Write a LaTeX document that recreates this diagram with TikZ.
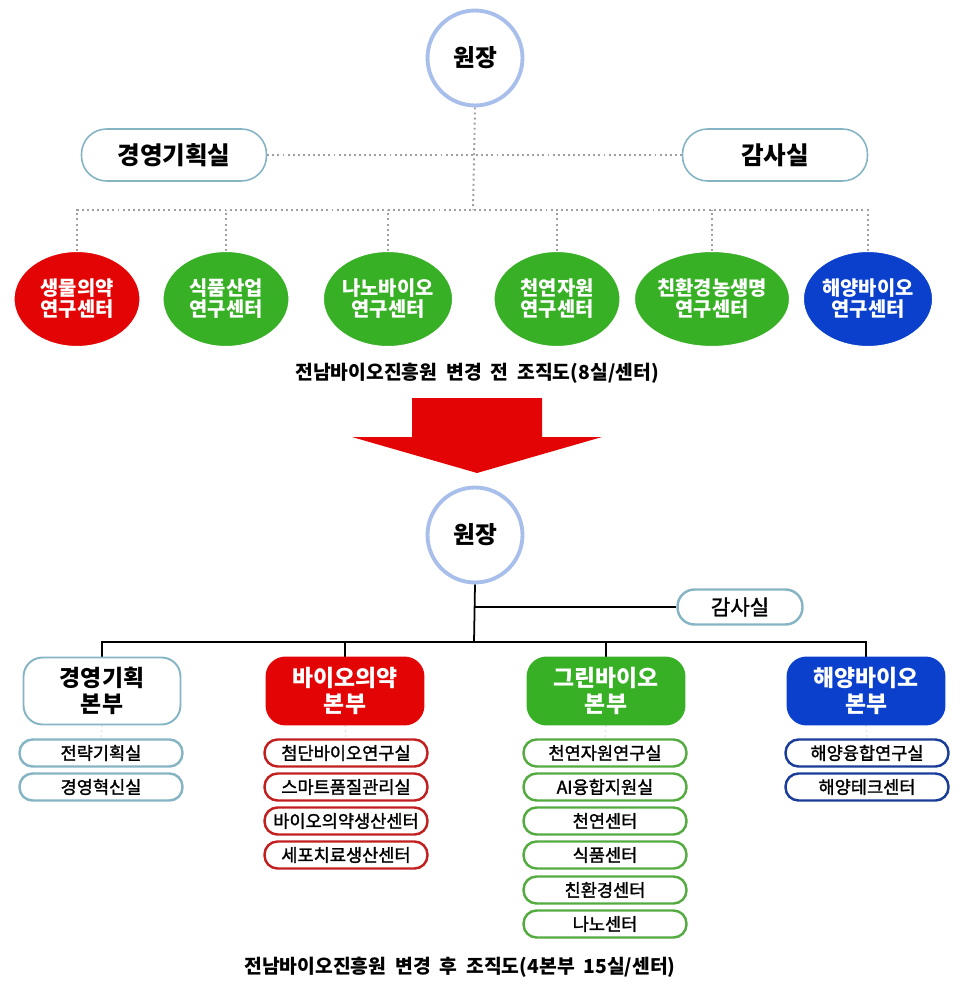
\documentclass[tikz,border=0pt]{standalone}
\usepackage{fontspec}
\usepackage{tikz}
\usetikzlibrary{shapes}
\usetikzlibrary{shapes.geometric}
\newfontfamily\kr{Noto Sans CJK KR}
\newfontfamily\krmed[FakeBold=1.6]{Noto Sans CJK KR}
\pgfdeclarelayer{edgelayer}
\pgfdeclarelayer{nodelayer}
\pgfsetlayers{edgelayer,nodelayer,main}
\tikzstyle{none}=[inner sep=0pt]
\definecolor{chief}{rgb}{0.66,0.75,0.92}
\definecolor{teal}{rgb}{0.52,0.71,0.77}
\definecolor{red}{rgb}{0.89,0.02,0.02}
\definecolor{green}{rgb}{0.22,0.69,0.15}
\definecolor{blue}{rgb}{0.04,0.25,0.80}
\definecolor{darkred}{rgb}{0.76,0.12,0.12}
\definecolor{darkgreen}{rgb}{0.33,0.67,0.25}
\definecolor{darkblue}{rgb}{0.10,0.24,0.60}
\tikzstyle{chief}=[style=none, circle, draw=chief, line width=2.2pt, fill=white, minimum size=1.9cm, font=\kr\bfseries\fontsize{13.5}{15}\selectfont]
\tikzstyle{pill}=[style=none, rectangle, draw=teal, line width=0.9pt, fill=white, rounded corners=0.5cm, minimum width=3.7cm, minimum height=1.04cm, font=\kr\bfseries\fontsize{14}{16}\selectfont]
\tikzstyle{centre}=[style=none, ellipse, draw=white, line width=0.6pt, text=white, align=center, minimum width=2.52cm, minimum height=1.9cm, font=\kr\bfseries\fontsize{11.3}{12}\selectfont]
\tikzstyle{head}=[style=none, rectangle, rounded corners=0.38cm, line width=1.1pt, align=center, minimum width=3.14cm, minimum height=1.34cm, font=\kr\bfseries\fontsize{13}{14.5}\selectfont]
\tikzstyle{sub}=[style=none, rectangle, rounded corners=0.26cm, line width=1.4pt, fill=white, minimum width=3.26cm, minimum height=0.54cm, font=\krmed\fontsize{10}{11}\selectfont]
\tikzstyle{dotline}=[color=gray!75, line width=1.1pt, dash pattern=on 1.1pt off 1.8pt]
\tikzstyle{faint}=[color=gray!25, line width=0.8pt, dotted]
\tikzstyle{solidline}=[color=black, line width=1pt]
\tikzstyle{caption}=[style=none, font=\kr\bfseries\fontsize{11}{13}\selectfont]

\begin{document}
\begin{tikzpicture}[x=0.02cm, y=-0.02cm]
	\useasboundingbox (0,0) rectangle (960,989);
	\begin{pgfonlayer}{nodelayer}
		% before
		\node [style=chief] (0) at (475, 58) {원장};
		\node [style=pill] (1) at (174, 155) {경영기획실};
		\node [style=pill] (2) at (775, 155) {감사실};
		\node [style=centre, fill=red] (3) at (77, 299) {생물의약\\연구센터};
		\node [style=centre, fill=green] (4) at (226, 299) {식품산업\\연구센터};
		\node [style=centre, fill=green] (5) at (388, 299) {나노바이오\\연구센터};
		\node [style=centre, fill=green] (6) at (557, 299) {천연자원\\연구센터};
		\node [style=centre, fill=green] (7) at (712, 299) {친환경농생명\\연구센터};
		\node [style=centre, fill=blue] (8) at (868, 299) {해양바이오\\연구센터};
		\node [style=caption] (9) at (477, 373) {전남바이오진흥원\ \ 변경\ \ 전\ \ 조직도(8실/센터)};
		% after
		\node [style=chief] (10) at (475, 535) {원장};
		\node [style=sub, draw=teal, minimum width=2.5cm, minimum height=0.7cm, rounded corners=0.34cm, font=\krmed\fontsize{12}{13}\selectfont] (11) at (740, 607) {감사실};
		\node [style=head, draw=teal, fill=white] (13) at (102, 691) {경영기획\\본부};
		\node [style=head, draw=red, fill=red, text=white] (14) at (345, 691) {바이오의약\\본부};
		\node [style=head, draw=green, fill=green, text=white] (15) at (606, 691) {그린바이오\\본부};
		\node [style=head, draw=blue, fill=blue, text=white] (16) at (866, 691) {해양바이오\\본부};
		\node [style=sub, draw=teal] (17) at (101, 753) {전략기획실};
		\node [style=sub, draw=teal] (18) at (101, 787) {경영혁신실};
		\node [style=sub, draw=darkred] (19) at (346, 753) {첨단바이오연구실};
		\node [style=sub, draw=darkred] (20) at (346, 787) {스마트품질관리실};
		\node [style=sub, draw=darkred] (21) at (346, 821) {바이오의약생산센터};
		\node [style=sub, draw=darkred] (22) at (346, 855) {세포치료생산센터};
		\node [style=sub, draw=darkgreen] (23) at (605, 753) {천연자원연구실};
		\node [style=sub, draw=darkgreen] (24) at (605, 787) {AI융합지원실};
		\node [style=sub, draw=darkgreen] (25) at (605, 821) {천연센터};
		\node [style=sub, draw=darkgreen] (26) at (605, 855) {식품센터};
		\node [style=sub, draw=darkgreen] (27) at (605, 890) {친환경센터};
		\node [style=sub, draw=darkgreen] (28) at (605, 924) {나노센터};
		\node [style=sub, draw=darkblue] (29) at (867, 753) {해양융합연구실};
		\node [style=sub, draw=darkblue] (30) at (867, 787) {해양테크센터};
		\node [style=caption] (31) at (460, 967) {전남바이오진흥원\ \ 변경\ \ 후\ \ 조직도(4본부\ \ 15실/센터)};
	\end{pgfonlayer}
	\begin{pgfonlayer}{edgelayer}
		\coordinate (32) at (473, 210);
		\coordinate (33) at (474, 642);
		\coordinate (34) at (474, 607);
		\draw [style=dotline] (0.south) to (32);
		\draw [style=dotline] (1.east) to (2.west);
		\draw [style=dotline] (3.north) |- (32) -| (8.north);
		\draw [style=dotline] (4.north) to (4.north |- 32);
		\draw [style=dotline] (5.north) to (5.north |- 32);
		\draw [style=dotline] (6.north) to (6.north |- 32);
		\draw [style=dotline] (7.north) to (7.north |- 32);
		\draw [style=solidline] (10.south) to (33);
		\draw [style=solidline] (34) to (11.west);
		\draw [style=solidline] (13.north) |- (33) -| (16.north);
		\draw [style=solidline] (14.north) to (14.north |- 33);
		\draw [style=solidline] (15.north) to (15.north |- 33);
		\draw [style=faint] (13.south) to (17.north);
		\draw [style=faint] (14.south) to (19.north);
		\draw [style=faint] (15.south) to (23.north);
		\draw [style=faint] (16.south) to (29.north);
	\end{pgfonlayer}
	% arrow between the two charts
	\fill [red] (412, 398) -- (542, 398) -- (542, 437) -- (602, 437) -- (477, 473) -- (352, 437) -- (412, 437) -- cycle;
\end{tikzpicture}
\end{document}
